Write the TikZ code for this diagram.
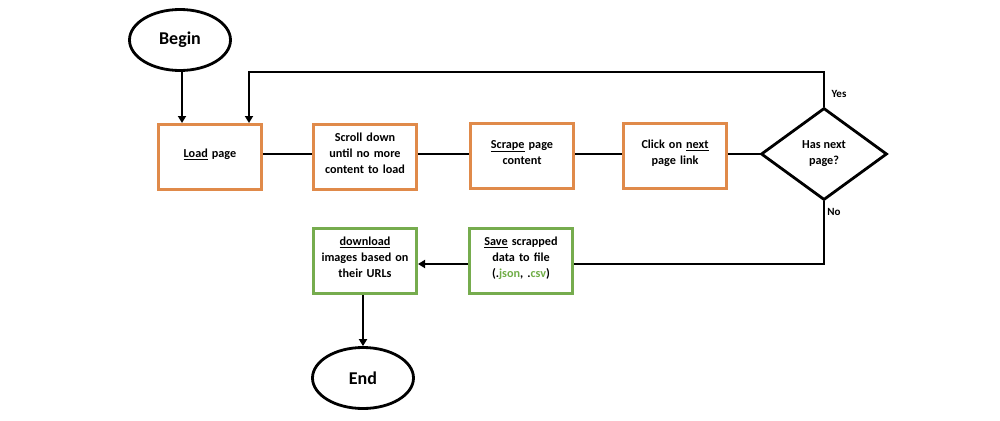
\documentclass[tikz,border=0pt]{standalone}
\usepackage{fontspec}
\setmainfont{Carlito}
\usetikzlibrary{shapes.geometric,arrows.meta}
\definecolor{boxorange}{HTML}{E08A4A}
\definecolor{boxgreen}{HTML}{76AC4E}
\definecolor{txtgreen}{HTML}{70AD47}
\newcommand{\upfix}{\\[-8pt]\mbox{}}
\begin{document}
\begin{tikzpicture}[x=1pt,y=-1pt,
  every node/.style={font=\bfseries\fontsize{12.2}{16}\selectfont, align=center},
  procbox/.style={draw=boxorange, line width=3pt, minimum width=103pt, minimum height=65pt, inner sep=2pt, text width=98pt},
  savebox/.style={draw=boxgreen, line width=3pt, minimum width=103pt, minimum height=65pt, inner sep=2pt, text width=98pt},
  terminal/.style={draw=black, line width=2.8pt, ellipse, minimum width=101pt, minimum height=61pt, inner sep=0pt, font=\bfseries\fontsize{18}{20}\selectfont},
  decision/.style={draw=black, line width=2.8pt, diamond, minimum width=126pt, minimum height=92pt, inner sep=0pt},
  conn/.style={draw=black, line width=2.8pt},
  arr/.style={conn, -{Triangle[length=7pt,width=8pt]}},
  lbl/.style={font=\bfseries\fontsize{11}{13}\selectfont, inner sep=0pt}
]
\useasboundingbox (0,0) rectangle (1000,420);

\node[terminal] (begin) at (180,40) {Begin};
\node[procbox] (load) at (210,157) {\underline{Load} page\upfix};
\node[procbox] (scroll) at (365,157) {Scroll down\\until no more\\content to load\upfix};
\node[procbox] (scrape) at (522,156) {\underline{Scrape} page\\content\upfix};
\node[procbox] (click) at (675,156) {Click on \underline{next}\\page link\upfix};
\node[decision] (dec) at (824,154) {Has next\\page?};
\node[savebox] (save) at (521,261) {\underline{Save} scrapped\\data to file\\(.\textcolor{txtgreen}{json}, .\textcolor{txtgreen}{csv})\upfix};
\node[savebox] (down) at (365,261) {\underline{download}\\images based on\\their URLs\upfix};
\node[terminal] (end) at (363,378) {End};

\coordinate (topR) at (824,72);
\coordinate (topL) at (249,72);
\coordinate (noC) at (824,264);

\draw[arr] (begin.south -| 182,0) -- (load.north -| 182,0);
\draw[arr] (dec.north) -- (topR) -- (topL) -- (topL |- load.north);
\draw[conn] (load.east |- 0,154) -- (scroll.west |- 0,154);
\draw[conn] (scroll.east |- 0,154) -- (scrape.west |- 0,154);
\draw[conn] (scrape.east |- 0,154) -- (click.west |- 0,154);
\draw[conn] (click.east |- 0,154) -- (dec.west);
\draw[conn] (dec.south) -- (noC) -- (save.east |- noC);
\draw[arr] (save.west |- noC) -- (down.east |- noC);
\draw[arr] (down.south -| 363,0) -- (end.north);

\node[lbl] (yes) at (839,94) {Yes};
\node[lbl] (no) at (834,212) {No};
\end{tikzpicture}
\end{document}
